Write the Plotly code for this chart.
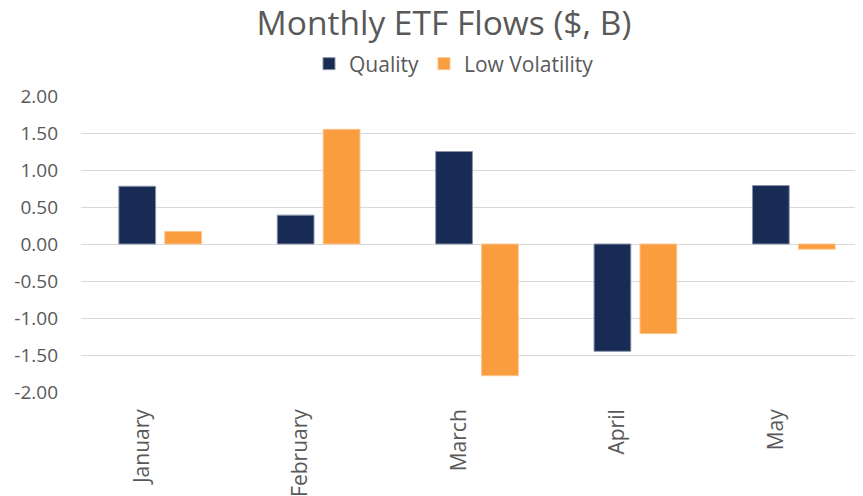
import plotly.graph_objects as go

months = ["January", "February", "March", "April", "May"]
quality = [0.78, 0.39, 1.25, -1.45, 0.79]
low_vol = [0.17, 1.55, -1.78, -1.21, -0.07]
y_ticks = [2.0, 1.5, 1.0, 0.5, 0.0, -0.5, -1.0, -1.5, -2.0]

FONT = "Open Sans"
GREY = "#595959"
W = 865

fig = go.Figure()
fig.add_trace(go.Bar(x=months, y=quality, name="Quality",
                     marker=dict(color="#172B54", line=dict(color="#8A93A8", width=1))))
fig.add_trace(go.Bar(x=months, y=low_vol, name="Low Volatility",
                     marker=dict(color="#F99D3E", line=dict(color="#FCC58C", width=1))))

fig.update_layout(
    width=W, height=496,
    margin=dict(l=73, r=0, t=88, b=112, autoexpand=False),
    paper_bgcolor="white", plot_bgcolor="white",
    bargap=0.42, bargroupgap=0.2,
    title=dict(text="Monthly ETF Flows ($, B)", x=436 / W, xref="container", xanchor="center",
               y=1 - 15 / 496, yref="container", yanchor="middle",
               font=dict(family=FONT, size=33.5, color=GREY)),
    legend=dict(orientation="h", xref="container", x=446 / W, xanchor="center",
                yref="container", y=1 - 56 / 496, yanchor="middle",
                font=dict(family=FONT, size=21, color=GREY), itemwidth=30,
                traceorder="normal"),
    font=dict(family=FONT, color=GREY),
)
fig.update_yaxes(range=[-2, 2], tickvals=y_ticks, ticktext=[f"{v:.2f}" for v in y_ticks],
                 showgrid=True, gridcolor="#D9D9D9", gridwidth=1,
                 zeroline=True, zerolinecolor="#D9D9D9", zerolinewidth=1,
                 tickfont=dict(family=FONT, size=19, color=GREY), ticks="",
                 ticklabelstandoff=22, automargin=False)
fig.update_xaxes(tickangle=-90, tickfont=dict(family=FONT, size=21, color=GREY),
                 showline=False, ticks="", automargin=False, ticklabelshift=-18,
                 ticklabelstandoff=12)

fig.write_html("out.html")
